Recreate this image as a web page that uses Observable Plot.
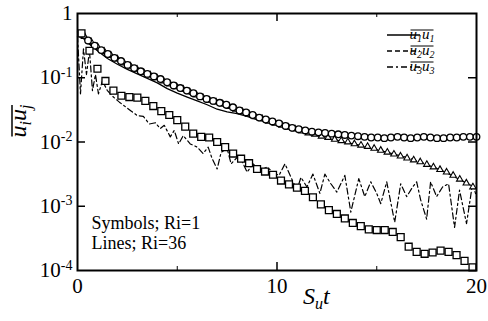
<!DOCTYPE html>
<html><head><meta charset="utf-8">
<script src="https://cdn.jsdelivr.net/npm/d3@7"></script>
<script src="https://cdn.jsdelivr.net/npm/@observablehq/plot@0.6"></script>
<style>
html,body{margin:0;padding:0;background:#fff;}
svg{font-family:"Liberation Serif","DejaVu Serif",serif;}
</style>
</head><body>
<div id="chart"></div>
<script>
// ---- Data (stored as log10 exponents) ----
// Symbols, Ri = 1
const tCircle = d3.range(0.2, 20.01, 0.33);
const logU11Ri1 = [-0.32,-0.42,-0.50,-0.57,-0.63,-0.69,-0.74,-0.80,-0.85,-0.90,-0.94,-0.98,-1.02,-1.07,-1.12,-1.16,-1.20,-1.24,-1.29,-1.33,-1.36,-1.39,-1.42,-1.46,-1.51,-1.54,-1.58,-1.62,-1.65,-1.68,-1.71,-1.75,-1.78,-1.80,-1.82,-1.84,-1.85,-1.86,-1.87,-1.88,-1.89,-1.90,-1.91,-1.92,-1.93,-1.93,-1.94,-1.93,-1.92,-1.93,-1.94,-1.93,-1.92,-1.93,-1.94,-1.94,-1.93,-1.93,-1.92,-1.92,-1.92];
const tTriangle = d3.range(0.35, 19.9, 0.33);
const logU22Ri1 = [-0.36,-0.44,-0.52,-0.59,-0.65,-0.71,-0.77,-0.82,-0.87,-0.92,-0.96,-1.00,-1.05,-1.10,-1.14,-1.18,-1.22,-1.27,-1.31,-1.35,-1.38,-1.41,-1.45,-1.49,-1.53,-1.57,-1.61,-1.64,-1.68,-1.71,-1.74,-1.77,-1.80,-1.83,-1.86,-1.88,-1.91,-1.93,-1.96,-1.98,-2.00,-2.03,-2.05,-2.07,-2.10,-2.13,-2.16,-2.19,-2.22,-2.25,-2.28,-2.31,-2.35,-2.39,-2.43,-2.47,-2.52,-2.58,-2.64,-2.70];
const tSquare = d3.range(0.2, 19.9, 0.4);
const logU33Ri1 = [-0.31,-0.58,-0.86,-1.05,-1.20,-1.28,-1.30,-1.31,-1.36,-1.44,-1.52,-1.58,-1.66,-1.76,-1.87,-1.92,-1.93,-2.00,-2.08,-2.18,-2.26,-2.33,-2.42,-2.46,-2.51,-2.60,-2.66,-2.71,-2.76,-2.86,-2.97,-3.06,-3.12,-3.19,-3.26,-3.31,-3.36,-3.37,-3.37,-3.40,-3.48,-3.63,-3.71,-3.74,-3.72,-3.69,-3.71,-3.76,-3.85,-3.95];

// Lines, Ri = 36
const tLine = d3.range(0, 20.01, 0.5);
const logU11Ri36 = [-0.28,-0.45,-0.58,-0.70,-0.79,-0.87,-0.94,-1.01,-1.08,-1.17,-1.24,-1.30,-1.36,-1.42,-1.49,-1.53,-1.56,-1.60,-1.65,-1.69,-1.73,-1.76,-1.80,-1.83,-1.85,-1.86,-1.88,-1.89,-1.91,-1.92,-1.93,-1.94,-1.93,-1.93,-1.94,-1.93,-1.94,-1.93,-1.93,-1.92,-1.92];
const logU22Ri36 = [-0.30,-0.45,-0.57,-0.66,-0.74,-0.82,-0.90,-0.96,-1.03,-1.10,-1.17,-1.24,-1.30,-1.36,-1.41,-1.46,-1.52,-1.57,-1.62,-1.67,-1.72,-1.77,-1.82,-1.86,-1.90,-1.94,-1.97,-2.01,-2.04,-2.08,-2.12,-2.16,-2.20,-2.24,-2.29,-2.35,-2.41,-2.48,-2.56,-2.64,-2.72];
const tU33Ri36 = [0.0,0.15,0.3,0.45,0.6,0.75,0.9,1.05,1.25,1.5,1.8,2.1,2.4,2.7,3.0,3.3,3.6,3.9,4.15,4.35,4.65,4.85,5.07,5.3,5.65,6.0,6.3,6.55,6.75,7.0,7.2,7.5,7.7,8.0,8.25,8.5,8.8,9.15,9.5,9.8,10.1,10.4,10.7,11.0,11.2,11.5,11.8,12.15,12.4,12.7,13.0,13.4,13.7,14.1,14.4,14.7,15.0,15.2,15.5,15.9,16.2,16.5,16.8,17.0,17.2,17.5,17.7,18.0,18.3,18.6,18.9,19.15,19.5,19.8,20.0];
const logU33Ri36 = [-0.35,-1.25,-0.55,-0.95,-0.58,-1.20,-0.95,-1.25,-1.05,-1.20,-1.30,-1.38,-1.45,-1.52,-1.59,-1.60,-1.72,-1.70,-1.79,-1.74,-1.92,-1.82,-2.03,-1.90,-2.03,-2.08,-2.18,-2.08,-2.26,-2.42,-2.16,-2.10,-2.34,-2.24,-2.30,-2.47,-2.34,-2.44,-2.39,-2.47,-2.52,-2.34,-2.55,-2.75,-2.55,-2.70,-2.50,-2.80,-2.50,-2.65,-2.78,-2.52,-3.09,-2.57,-2.85,-2.62,-2.80,-2.96,-2.62,-3.25,-2.65,-2.85,-2.70,-2.62,-2.90,-3.20,-2.62,-2.85,-2.70,-2.65,-3.33,-2.75,-3.27,-2.65,-2.85];

// Axis ticks
const yTicks = [1, 1e-1, 1e-2, 1e-3, 1e-4];
const xTicks = [0, 10, 20];
const xMinor = [5, 15];
const legendNames = ["11", "22", "33"];

const toRows = (ts, logs) => ts.slice(0, logs.length).map((t, i) => ({t, v: Math.pow(10, logs[i])}));
const circles = toRows(tCircle, logU11Ri1);
const triangles = toRows(tTriangle, logU22Ri1);
const squares = toRows(tSquare, logU33Ri1);
const solid = toRows(tLine, logU11Ri36);
const dashed = toRows(tLine, logU22Ri36);
const dashdot = toRows(tU33Ri36, logU33Ri36);

const W = 488, H = 321, mL = 77, mR = 12, mT = 13, mB = 51;
const innerW = W - mL - mR, innerH = H - mT - mB;

const plot = Plot.plot({
  width: W, height: H,
  marginLeft: mL, marginRight: mR, marginTop: mT, marginBottom: mB,
  style: {fontFamily: "Liberation Serif, serif", background: "white", color: "black"},
  x: {domain: [0, 20]},
  y: {type: "log", domain: [1e-4, 1]},
  marks: [
    Plot.line(solid, {x: "t", y: "v", stroke: "black", strokeWidth: 1.3}),
    Plot.line(dashed, {x: "t", y: "v", stroke: "black", strokeWidth: 1.2, strokeDasharray: "5,3"}),
    Plot.line(dashdot, {x: "t", y: "v", stroke: "black", strokeWidth: 1.2, strokeDasharray: "6,3,2,3"}),
    Plot.dot(triangles, {x: "t", y: "v", symbol: "triangle", r: 2.4, stroke: "black", strokeWidth: 1.1, fill: "white"}),
    Plot.dot(circles, {x: "t", y: "v", symbol: "circle", r: 3.3, stroke: "black", strokeWidth: 1.3, fill: "white"}),
    Plot.dot(squares, {x: "t", y: "v", symbol: "square", r: 3.9, stroke: "black", strokeWidth: 1.3, fill: "white"}),
    // inward ticks
    Plot.tickY(yTicks.slice(1, 4), {y: d => d, insetRight: innerW - 8, stroke: "black", strokeWidth: 1.5}),
    Plot.tickY(yTicks.slice(1, 4), {y: d => d, insetLeft: innerW - 8, stroke: "black", strokeWidth: 1.5}),
    Plot.tickX([10], {x: d => d, insetTop: innerH - 8, stroke: "black", strokeWidth: 1.5}),
    Plot.tickX([10], {x: d => d, insetBottom: innerH - 8, stroke: "black", strokeWidth: 1.5}),
    Plot.tickX(xMinor, {x: d => d, insetTop: innerH - 4, stroke: "black", strokeWidth: 1}),
    Plot.tickX(xMinor, {x: d => d, insetBottom: innerH - 4, stroke: "black", strokeWidth: 1}),
    Plot.frame({stroke: "black", strokeWidth: 2}),
    Plot.axisY({ticks: yTicks, tickSize: 0, tickPadding: 5, fontSize: 21,
      tickFormat: d => d === 1 ? "1" : "10^" + Math.round(Math.log10(d)), label: null}),
    Plot.axisX({ticks: xTicks, tickSize: 0, tickPadding: 8, fontSize: 21, tickFormat: d => String(d), label: null}),
    Plot.text(["Symbols; Ri=1\nLines; Ri=36"], {frameAnchor: "bottom-left", dx: 14, dy: -22,
      textAnchor: "start", lineAnchor: "bottom", lineHeight: 1.1, fontSize: 18})
  ]
});
document.getElementById("chart").appendChild(plot);

const svg = d3.select(plot);
// superscripts on y tick labels
svg.selectAll("text").each(function() {
  const s = this.textContent;
  const m = /^10\^(-?\d+)$/.exec(s);
  if (m) {
    const el = d3.select(this);
    el.text("10");
    el.append("tspan").attr("dy", "-0.55em").attr("font-size", 14).text(m[1]);
  }
});
// helper: overline drawn along the top of a text's box
function overline(textSel, gap, width) {
  const b = textSel.node().getBBox();
  const parent = d3.select(textSel.node().parentNode);
  const tr = textSel.attr("transform");
  parent.append("line")
    .attr("transform", tr)
    .attr("x1", b.x + 1).attr("x2", b.x + b.width - 1)
    .attr("y1", b.y + gap).attr("y2", b.y + gap)
    .attr("stroke", "black").attr("stroke-width", width);
}
// x axis label S_u t
const xl = svg.append("text").attr("x", 303).attr("y", 304)
  .attr("text-anchor", "start").attr("font-size", 24).attr("font-style", "italic")
  .attr("font-family", "Liberation Serif, serif");
xl.append("tspan").text("S");
xl.append("tspan").attr("dy", 5).attr("font-size", 16).text("u");
xl.append("tspan").attr("dy", -5).text("t");
// y axis label overline(u_i u_j)
const yl = svg.append("text").attr("transform", `translate(26,121) rotate(-90)`)
  .attr("text-anchor", "middle").attr("font-size", 24).attr("font-style", "italic")
  .attr("font-family", "Liberation Serif, serif");
yl.append("tspan").text("u");
yl.append("tspan").attr("dy", 5).attr("font-size", 16).text("i");
yl.append("tspan").attr("dy", -5).text("u");
yl.append("tspan").attr("dy", 5).attr("font-size", 16).text("j");
overline(yl, 7, 1.5);
// legend
const dashes = [null, "5,3", "6,3,2,3"];
legendNames.forEach((n, i) => {
  const y = 35 + 16 * i;
  svg.append("line").attr("x1", 387).attr("x2", 420).attr("y1", y).attr("y2", y)
    .attr("stroke", "black").attr("stroke-width", 1.3).attr("stroke-dasharray", dashes[i]);
  const t = svg.append("text").attr("x", 422).attr("y", y + 4).attr("font-size", 15)
    .attr("font-style", "italic").attr("font-family", "Liberation Serif, serif");
  t.append("tspan").text("u");
  t.append("tspan").attr("dy", 3).attr("font-size", 10).text(n[0]);
  t.append("tspan").attr("dy", -3).text("u");
  t.append("tspan").attr("dy", 3).attr("font-size", 10).text(n[1]);
  overline(t, 4, 1);
});
</script>
</body></html>
